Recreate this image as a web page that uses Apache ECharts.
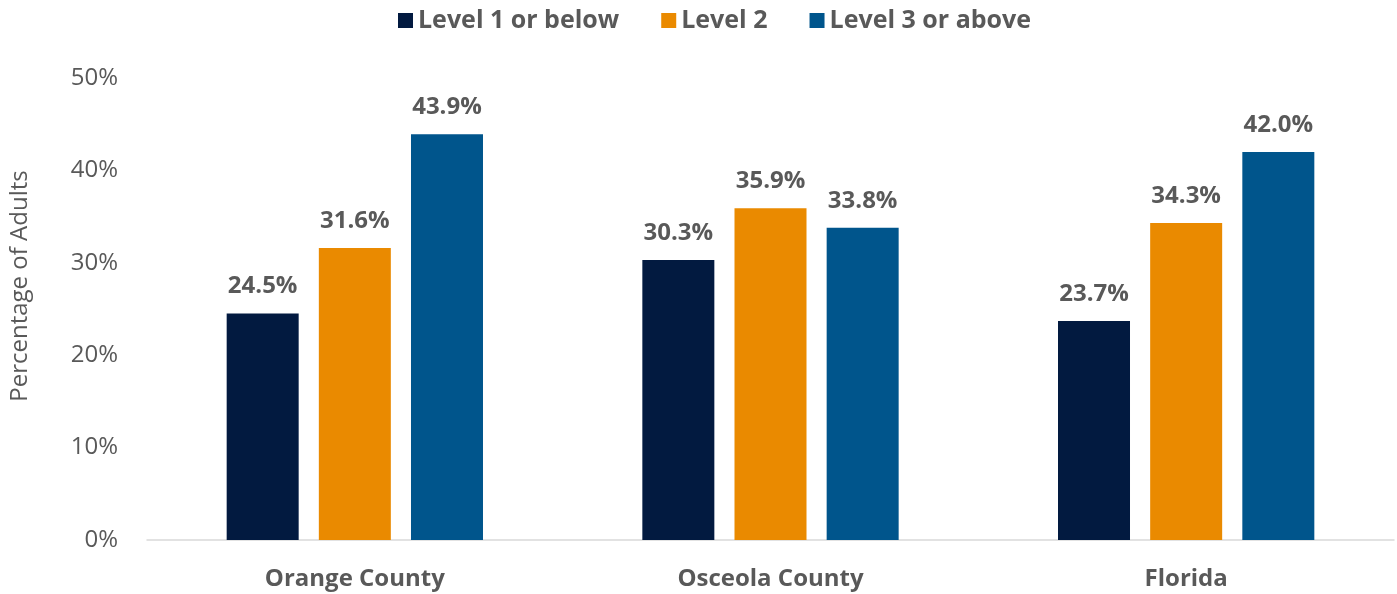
<!DOCTYPE html>
<html><head><meta charset="utf-8">
<script src="https://cdn.jsdelivr.net/npm/echarts@6/dist/echarts.min.js"></script>
<style>html,body{margin:0;padding:0;background:#fff}#c{width:1397px;height:594px}</style>
</head><body><div id="c"></div>
<script>
const categories = ['Orange County', 'Osceola County', 'Florida'];
const seriesNames = ['Level 1 or below', 'Level 2', 'Level 3 or above'];
const level1 = [24.5, 30.3, 23.7];
const level2 = [31.6, 35.9, 34.3];
const level3 = [43.9, 33.8, 42.0];
const colors = ['#021A40', '#EA8A00', '#00558C'];
const txt = '#595959';
const font = '"Open Sans", "Liberation Sans", sans-serif';

const chart = echarts.init(document.getElementById('c'), null, {renderer: 'canvas'});
const mk = (name, data, color) => ({
  name, type: 'bar', data, barWidth: 72, barGap: '28%',
  itemStyle: {color},
  label: {show: true, position: 'top', distance: 15, formatter: p => p.value.toFixed(1) + '%',
    color: txt, fontSize: 24, fontWeight: 'bold', fontFamily: font}
});
chart.setOption({
  animation: false,
  textStyle: {fontFamily: font},
  legend: {top: 3, left: 393, itemWidth: 15, itemHeight: 15, itemGap: 42,
    icon: 'rect', textStyle: {color: txt, fontSize: 25, fontWeight: 'bold', fontFamily: font},
    data: seriesNames},
  grid: {left: 147, right: 3, top: 78, bottom: 54, containLabel: false},
  xAxis: {type: 'category', data: categories,
    axisLine: {lineStyle: {color: '#D9D9D9', width: 1.5}}, axisTick: {show: false},
    axisLabel: {color: txt, fontSize: 24, fontWeight: 'bold', margin: 27, fontFamily: font}},
  yAxis: {type: 'value', min: 0, max: 50, interval: 10,
    name: 'Percentage of Adults', nameLocation: 'middle', nameGap: 115, nameRotate: 90,
    nameTextStyle: {color: txt, fontSize: 24, fontFamily: font, padding: [0, 0, 0, 46]},
    axisLabel: {formatter: v => v + '%', color: txt, fontSize: 24, margin: 29, fontFamily: font},
    splitLine: {show: false}, axisLine: {show: false}, axisTick: {show: false}},
  series: [mk(seriesNames[0], level1, colors[0]), mk(seriesNames[1], level2, colors[1]), mk(seriesNames[2], level3, colors[2])]
});
</script></body></html>
